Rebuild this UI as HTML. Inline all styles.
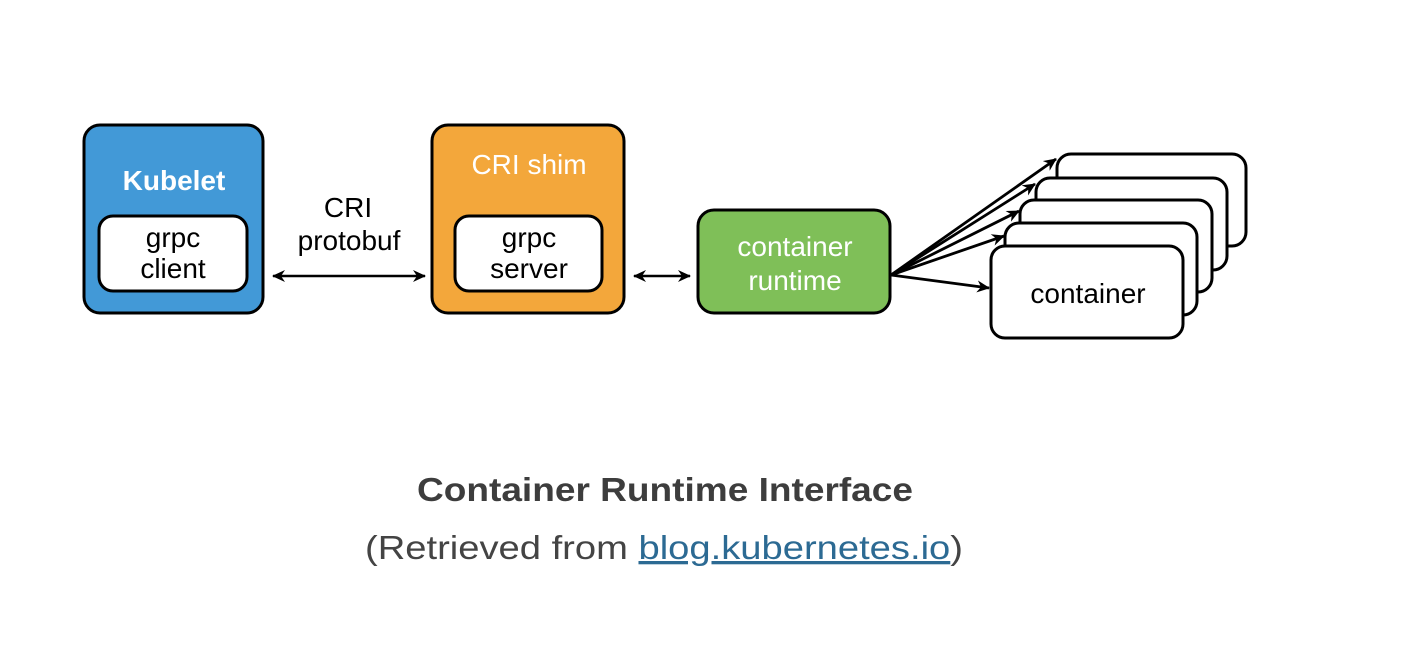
<!DOCTYPE html>
<html><head><meta charset="utf-8"><style>
html,body{margin:0;padding:0;background:#fff;width:1418px;height:658px;overflow:hidden}
svg{display:block}
</style></head><body>
<svg width="1418" height="658" viewBox="0 0 1418 658" xmlns="http://www.w3.org/2000/svg" font-family="'Liberation Sans', 'DejaVu Sans', sans-serif">
<defs>
<marker id="ah" markerWidth="13" markerHeight="12" refX="12" refY="6" orient="auto-start-reverse" markerUnits="userSpaceOnUse">
<path d="M0,0 L13,6 L0,12 L4,6 z" fill="#000"/>
</marker>
</defs>
<g font-size="28">
<!-- Kubelet -->
<rect x="84" y="125" width="179" height="188" rx="16" fill="#4299d7" stroke="#000" stroke-width="3"/>
<text x="174" y="190" text-anchor="middle" font-weight="bold" fill="#fff">Kubelet</text>
<rect x="99" y="216" width="148" height="75" rx="14" fill="#fff" stroke="#000" stroke-width="3"/>
<text x="173" y="247" text-anchor="middle" fill="#000">grpc</text>
<text x="173" y="278" text-anchor="middle" fill="#000">client</text>
<!-- CRI protobuf -->
<text x="348" y="217" text-anchor="middle">CRI</text>
<text x="349" y="250" text-anchor="middle">protobuf</text>
<line x1="273" y1="276" x2="425" y2="276" stroke="#000" stroke-width="2.5" marker-start="url(#ah)" marker-end="url(#ah)"/>
<!-- CRI shim -->
<rect x="432" y="125" width="192" height="188" rx="16" fill="#f3a73b" stroke="#000" stroke-width="3"/>
<text x="529" y="174" text-anchor="middle" fill="#fff">CRI shim</text>
<rect x="455" y="216" width="147" height="75" rx="14" fill="#fff" stroke="#000" stroke-width="3"/>
<text x="529" y="247" text-anchor="middle">grpc</text>
<text x="529" y="278" text-anchor="middle">server</text>
<line x1="634" y1="276" x2="690" y2="276" stroke="#000" stroke-width="2.5" marker-start="url(#ah)" marker-end="url(#ah)"/>
<!-- container runtime -->
<rect x="698" y="210" width="192" height="103" rx="16" fill="#7fbf58" stroke="#000" stroke-width="3"/>
<text x="795" y="256" text-anchor="middle" fill="#fff">container</text>
<text x="795" y="290" text-anchor="middle" fill="#fff">runtime</text>
<!-- container stack -->
<rect x="1057" y="154" width="189" height="92" rx="14" fill="#fff" stroke="#000" stroke-width="3"/>
<rect x="1036" y="178" width="191" height="92" rx="14" fill="#fff" stroke="#000" stroke-width="3"/>
<rect x="1020" y="200" width="192" height="92" rx="14" fill="#fff" stroke="#000" stroke-width="3"/>
<rect x="1005" y="223" width="192" height="92" rx="14" fill="#fff" stroke="#000" stroke-width="3"/>
<rect x="991" y="246" width="192" height="92" rx="14" fill="#fff" stroke="#000" stroke-width="3"/>
<text x="1088" y="303" text-anchor="middle">container</text>
</g>
<g stroke="#000" stroke-width="2.8">
<line x1="891" y1="275" x2="1056" y2="159" marker-end="url(#ah)"/>
<line x1="891" y1="275" x2="1035" y2="184" marker-end="url(#ah)"/>
<line x1="891" y1="275" x2="1019" y2="211" marker-end="url(#ah)"/>
<line x1="891" y1="275" x2="1004" y2="236" marker-end="url(#ah)"/>
<line x1="891" y1="275" x2="989" y2="288" marker-end="url(#ah)"/>
</g>
<!-- caption -->
<text x="665" y="501" text-anchor="middle" font-size="33" font-weight="bold" fill="#3d3d3d" textLength="496" lengthAdjust="spacingAndGlyphs">Container Runtime Interface</text>
<text x="365" y="559" font-size="33" fill="#444" textLength="598" lengthAdjust="spacingAndGlyphs">(Retrieved from <tspan fill="#2c6a93" text-decoration="underline">blog.kubernetes.io</tspan>)</text>
</svg>
</body></html>
